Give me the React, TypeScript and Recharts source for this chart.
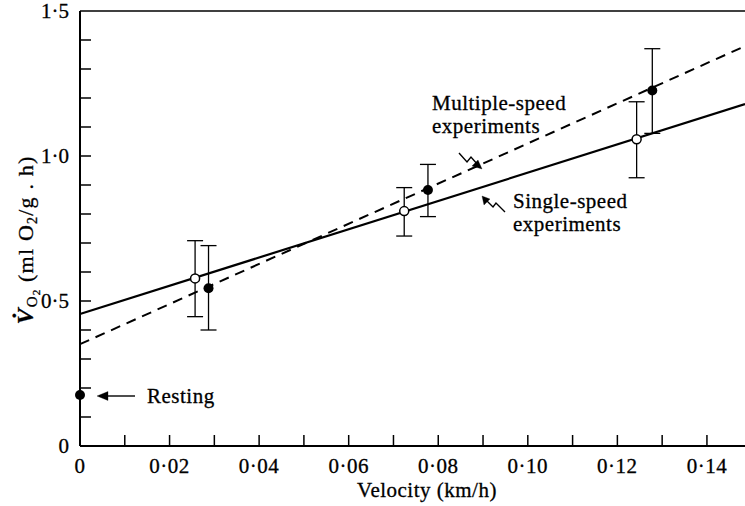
import {
  ComposedChart,
  ErrorBar,
  Line,
  ReferenceLine,
  Scatter,
  XAxis,
  YAxis,
} from "recharts";

const singleX = [0.0257, 0.0724, 0.1243];
const singleY = [0.578, 0.81, 1.058];
const singleLo = [0.446, 0.724, 0.925];
const singleHi = [0.708, 0.891, 1.187];

const multiX = [0.0287, 0.0777, 0.1278];
const multiY = [0.544, 0.883, 1.226];
const multiLo = [0.4, 0.791, 1.078];
const multiHi = [0.691, 0.971, 1.37];

const restingX = [0];
const restingY = [0.176];

const fitX = [0, 0.1485];
const singleFitY = [0.455, 1.179];
const multiFitY = [0.351, 1.379];

const xTicks = [0, 0.01, 0.02, 0.03, 0.04, 0.05, 0.06, 0.07, 0.08, 0.09, 0.1, 0.11, 0.12, 0.13, 0.14];
const xTickLabels: Record<string, string> = {
  "0": "0",
  "0.02": "0·02",
  "0.04": "0·04",
  "0.06": "0·06",
  "0.08": "0·08",
  "0.1": "0·10",
  "0.12": "0·12",
  "0.14": "0·14",
};
const yTicks = [0, 0.1, 0.2, 0.3, 0.4, 0.5, 0.6, 0.7, 0.8, 0.9, 1, 1.1, 1.2, 1.3, 1.4, 1.5];
const yTickLabels: Record<string, string> = {
  "0": "0",
  "0.5": "0·5",
  "1": "1·0",
  "1.5": "1·5",
};

const FONT = "'Liberation Serif', 'Times New Roman', serif";
const FS = 21;

const withErr = (xs: number[], ys: number[], lo: number[], hi: number[]) =>
  xs.map((x, i) => ({ x, y: ys[i], err: [ys[i] - lo[i], hi[i] - ys[i]] }));

const singleData = withErr(singleX, singleY, singleLo, singleHi);
const multiData = withErr(multiX, multiY, multiLo, multiHi);
const restingData = restingX.map((x, i) => ({ x, y: restingY[i] }));
const singleFit = fitX.map((x, i) => ({ x, y: singleFitY[i] }));
const multiFit = fitX.map((x, i) => ({ x, y: multiFitY[i] }));

// printed look: a hair of stroke on the glyphs
const ink = { fill: "#000", stroke: "#000", strokeWidth: 0.3 };

function XTick({ x, y, payload }: any) {
  const label = xTickLabels[String(payload.value)];
  return (
    <g>
      {payload.value !== 0 && (
        <line x1={x} x2={x} y1={y} y2={y - 11} stroke="#000" strokeWidth={1.5} />
      )}
      {label && (
        <text x={x} y={y + 27} textAnchor="middle" fontFamily={FONT} fontSize={FS} letterSpacing={0.5} {...ink}>
          {label}
        </text>
      )}
    </g>
  );
}

function YTick({ x, y, payload }: any) {
  const label = yTickLabels[String(payload.value)];
  return (
    <g>
      {payload.value !== 0 && payload.value !== 1.5 && (
        <line x1={x} x2={x + 11} y1={y} y2={y} stroke="#000" strokeWidth={1.5} />
      )}
      {label && (
        <text x={x - 11} y={y + 7} textAnchor="end" fontFamily={FONT} fontSize={FS} {...ink}>
          {label}
        </text>
      )}
    </g>
  );
}

const openDot = (p: any) => (
  <circle cx={p.cx} cy={p.cy} r={4.5} fill="#fff" stroke="#000" strokeWidth={1.5} />
);
const filledDot = (p: any) => <circle cx={p.cx} cy={p.cy} r={5} fill="#000" />;

export default function App() {
  return (
    <div style={{ position: "absolute", left: 0, top: 0, width: 745, height: 506, background: "#fff" }}>
      <ComposedChart
        width={745}
        height={506}
        margin={{ top: 11, right: 0, bottom: 0, left: 0 }}
      >
        <XAxis
          dataKey="x"
          type="number"
          domain={[0, 0.1485]}
          ticks={xTicks}
          interval={0}
          tick={<XTick />}
          tickSize={0}
          tickMargin={0}
          height={60}
          axisLine={{ stroke: "#000", strokeWidth: 2 }}
        />
        <YAxis
          dataKey="y"
          type="number"
          domain={[0, 1.5]}
          ticks={yTicks}
          interval={0}
          tick={<YTick />}
          tickSize={0}
          tickMargin={0}
          width={80}
          axisLine={{ stroke: "#000", strokeWidth: 2 }}
        />
        <ReferenceLine y={1.5} stroke="#000" strokeWidth={1.5} />
        <Line
          data={singleFit}
          dataKey="y"
          stroke="#000"
          strokeWidth={2.2}
          dot={false}
          isAnimationActive={false}
        />
        <Line
          data={multiFit}
          dataKey="y"
          stroke="#000"
          strokeWidth={2}
          strokeDasharray="10 7"
          dot={false}
          isAnimationActive={false}
        />
        <Scatter data={singleData} dataKey="y" shape={openDot} isAnimationActive={false}>
          <ErrorBar dataKey="err" direction="y" width={8} stroke="#000" strokeWidth={1.3} />
        </Scatter>
        <Scatter data={multiData} dataKey="y" shape={filledDot} isAnimationActive={false}>
          <ErrorBar dataKey="err" direction="y" width={8} stroke="#000" strokeWidth={1.3} />
        </Scatter>
        <Scatter data={restingData} dataKey="y" shape={filledDot} isAnimationActive={false} />
      </ComposedChart>
      <svg
        width={745}
        height={506}
        style={{ position: "absolute", left: 0, top: 0, pointerEvents: "none", overflow: "visible" }}
        fontFamily={FONT}
        letterSpacing={0.5}
        {...ink}
      >
        <text x={427} y={497} textAnchor="middle" fontSize={FS}>
          Velocity (km/h)
        </text>
        <text transform="translate(33,240) rotate(-90)" textAnchor="middle" fontSize={22} letterSpacing={1.2}>
          <tspan fontStyle="italic" fontWeight="bold" fontSize={24}>V̇</tspan>
          <tspan dy={4} fontSize={15}>O</tspan>
          <tspan dy={3} fontSize={11}>2</tspan>
          <tspan dy={-7}> (ml O</tspan>
          <tspan dy={4} fontSize={14}>2</tspan>
          <tspan dy={-4}>/g . h)</tspan>
        </text>
        <text x={432} y={110} fontSize={FS}>Multiple-speed</text>
        <text x={432} y={133} fontSize={FS}>experiments</text>
        <text x={513} y={208} fontSize={FS}>Single-speed</text>
        <text x={513} y={231} fontSize={FS}>experiments</text>
        <text x={147} y={403} fontSize={FS}>Resting</text>
        <g stroke="#000" strokeWidth={1.4} fill="none">
          <path d="M135,396 L104,396" />
          <path d="M459,153 L467,162 L471,157 L478,165" />
          <path d="M505,212 L496,203 L493,207 L486,200" />
        </g>
        <polygon points="97,396 108,391.5 108,400.5" />
        <polygon points="482,169 472,166 478,160" />
        <polygon points="482,196 484,205 490,199" />
      </svg>
    </div>
  );
}
